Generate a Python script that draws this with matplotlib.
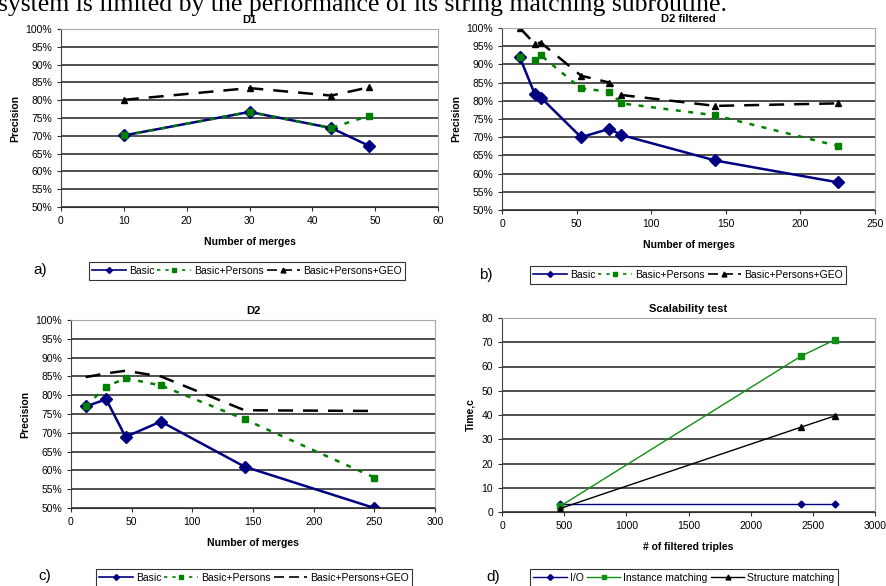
import matplotlib.pyplot as plt
from matplotlib.ticker import FuncFormatter, MultipleLocator

plt.rcParams['font.family'] = ['Liberation Sans', 'DejaVu Sans']

# D1
d1_x = [10, 30, 43, 49]
d1_basic = [70.1, 76.7, 72.2, 67.2]
d1_persons = [70.1, 76.7, 72.2, 75.6]
d1_geo = [80.1, 83.4, 81.3, 83.6]

# D2 filtered
d2f_x = [12, 22, 26, 53, 72, 80, 143, 225]
d2f_basic = [91.9, 81.8, 80.9, 70.0, 72.3, 70.6, 63.6, 57.6]
d2f_persons = [91.9, 91.2, 92.5, 83.4, 82.5, 79.3, 76.0, 67.6]
d2f_geo = [100.0, 95.6, 96.0, 86.9, 85.0, 81.6, 78.6, 79.3]

# D2
d2_x = [12, 29, 45, 74, 143, 250]
d2_basic = [77.0, 78.9, 68.9, 73.0, 61.0, 50.0]
d2_persons = [77.0, 82.3, 84.5, 82.6, 73.6, 58.1]
d2_geo = [84.8, 85.8, 86.5, 85.0, 76.0, 75.8]

# Scalability test
sc_x = [465, 2406, 2681]
sc_io = [3.2, 3.2, 3.2]
sc_instance = [2.3, 64.3, 71.1]
sc_structure = [1.4, 35.0, 39.7]

NAVY = '#000080'
GREEN = '#008000'
W, H = 886, 586

fig = plt.figure(figsize=(W / 100, H / 100), dpi=100)


def px_axes(left, right, top, bottom):
    return fig.add_axes([left / W, 1 - bottom / H, (right - left) / W, (bottom - top) / H])


def style_axes(ax, title, xlabel, ylabel):
    for s in ['top', 'right']:
        ax.spines[s].set_color('#a8a8a8')
    ax.spines['left'].set_color('#404040')
    ax.spines['bottom'].set_color('#303030')
    ax.yaxis.grid(True, color='#202020', lw=1.1)
    ax.set_axisbelow(True)
    ax.tick_params(labelsize=7.5, length=3, width=0.8, colors='#303030', labelcolor='black')
    ax.set_title(title, fontsize=8, fontweight='bold', pad=4)
    ax.set_xlabel(xlabel, fontsize=7.5, fontweight='bold', labelpad=8)
    ax.set_ylabel(ylabel, fontsize=7.5, fontweight='bold', labelpad=4)


def precision_axes(ax, xmax, xstep):
    ax.set_ylim(50, 100)
    ax.yaxis.set_major_locator(MultipleLocator(5))
    ax.yaxis.set_major_formatter(FuncFormatter(lambda v, p: f'{v:.0f}%'))
    ax.set_xlim(0, xmax)
    ax.xaxis.set_major_locator(MultipleLocator(xstep))


def fig_legend(handles, labels, cx, cy):
    leg = fig.legend(handles, labels, loc='center', bbox_to_anchor=(cx / W, 1 - cy / H),
                     ncol=3, fontsize=7.5, frameon=True, fancybox=False, handlelength=3.2,
                     columnspacing=0.3, handletextpad=0.3, borderpad=0.35, borderaxespad=0)
    leg.get_frame().set_edgecolor('black')
    leg.get_frame().set_linewidth(0.8)
    return leg


hl = [plt.Line2D([], [], color=NAVY, lw=1.2, marker='D', ms=3),
      plt.Line2D([], [], color=GREEN, lw=1.2, ls=(0, (2, 3)), marker='s', ms=3.5),
      plt.Line2D([], [], color='black', lw=1.2, ls=(0, (6, 3)), marker='^', ms=3.5)]
names = ['Basic', 'Basic+Persons', 'Basic+Persons+GEO']

# a) D1
ax = px_axes(61, 438, 29, 207)
ax.plot(d1_x, d1_basic, color=NAVY, lw=1.8, marker='D', ms=6)
ax.plot(d1_x, d1_persons, color=GREEN, lw=1.8, ls=(0, (2, 3)), marker='s', ms=5)
ax.plot(d1_x, d1_geo, color='black', lw=1.8, ls=(0, (6, 4)), marker='^', ms=5)
precision_axes(ax, 60, 10)
style_axes(ax, 'D1', 'Number of merges', 'Precision')
fig_legend(hl, names, 247, 271)
fig.text(40 / W, 1 - 270 / H, 'a)', fontsize=11, ha='center', va='center')

# b) D2 filtered
ax = px_axes(502, 875, 28, 210)
ax.plot(d2f_x, d2f_basic, color=NAVY, lw=1.8, marker='D', ms=6)
ax.plot(d2f_x, d2f_persons, color=GREEN, lw=1.8, ls=(0, (2, 3)), marker='s', ms=5)
ax.plot(d2f_x, d2f_geo, color='black', lw=1.8, ls=(0, (6, 4)), marker='^', ms=5)
precision_axes(ax, 250, 50)
style_axes(ax, 'D2 filtered', 'Number of merges', 'Precision')
fig_legend(hl, names, 688, 275)
fig.text(486 / W, 1 - 275 / H, 'b)', fontsize=11, ha='center', va='center')

# c) D2
ax = px_axes(71, 435, 320, 508)
ax.plot(d2_x, d2_basic, color=NAVY, lw=1.8, marker='D', ms=6)
ax.plot(d2_x, d2_persons, color=GREEN, lw=1.8, ls=(0, (2, 3)), marker='s', ms=5)
ax.plot(d2_x, d2_geo, color='black', lw=1.8, ls=(0, (6, 4)))
precision_axes(ax, 300, 50)
style_axes(ax, 'D2', 'Number of merges', 'Precision')
hl_c = [hl[0], hl[1], plt.Line2D([], [], color='black', lw=1.2, ls=(0, (6, 3)))]
fig_legend(hl_c, names, 254, 578)
fig.text(45 / W, 1 - 576 / H, 'c)', fontsize=11, ha='center', va='center')

# d) Scalability test
ax = px_axes(502, 875, 318, 512)
ax.plot(sc_x, sc_io, color=NAVY, lw=1, marker='D', ms=3.5)
ax.plot(sc_x, sc_instance, color='#109010', lw=1, marker='s', ms=5)
ax.plot(sc_x, sc_structure, color='black', lw=1, marker='^', ms=5)
ax.set_xlim(0, 3000)
ax.set_ylim(0, 80)
ax.xaxis.set_major_locator(MultipleLocator(500))
ax.yaxis.set_major_locator(MultipleLocator(10))
style_axes(ax, 'Scalability test', '# of filtered triples', 'Time,c')
hl_d = [plt.Line2D([], [], color=NAVY, lw=1, marker='D', ms=3),
        plt.Line2D([], [], color='#109010', lw=1, marker='s', ms=3.5),
        plt.Line2D([], [], color='black', lw=1, marker='^', ms=3.5)]
fig_legend(hl_d, ['I/O', 'Instance matching', 'Structure matching'], 684, 578)
fig.text(493 / W, 1 - 577 / H, 'd)', fontsize=11, ha='center', va='center')

# line of paper text above the figure, cut off by the top edge as in the scan
fig.text(-0.002, 1 - 11 / H, 'system is limited by the performance of its string matching subroutine.',
         fontsize=18.5, family=['Liberation Serif', 'DejaVu Serif'], ha='left', va='baseline')

fig.savefig('out.png', dpi=100)
